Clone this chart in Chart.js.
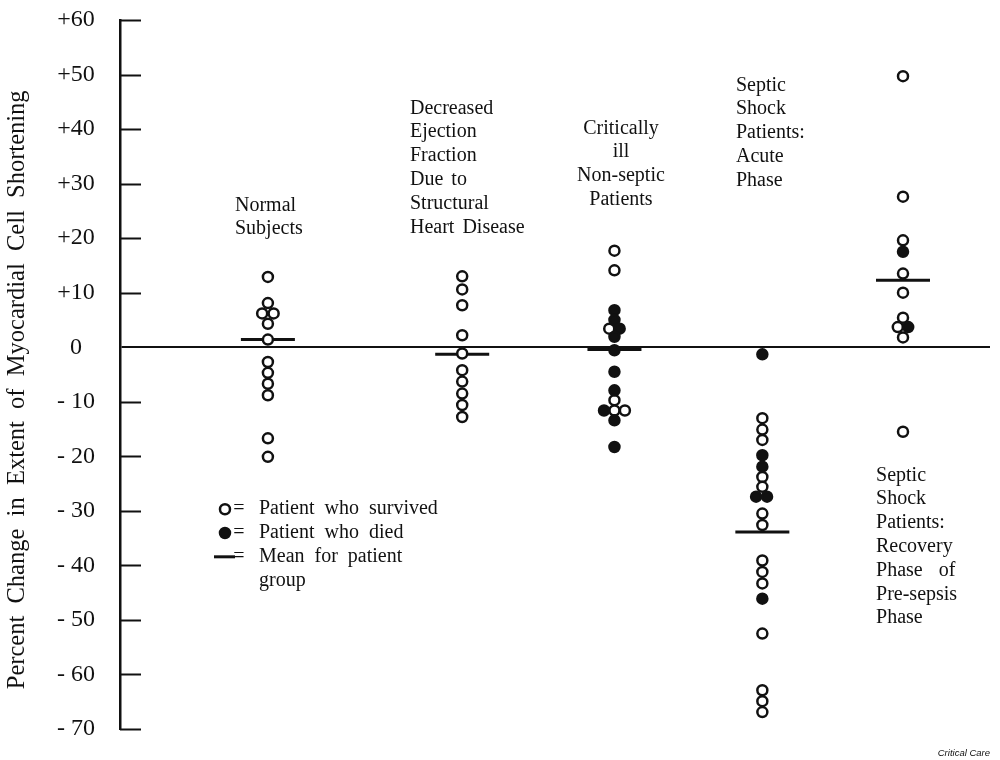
<!DOCTYPE html>
<html><head><meta charset="utf-8">
<script src="https://cdn.jsdelivr.net/npm/chart.js@4/dist/chart.umd.min.js"></script>
<style>html,body{margin:0;padding:0;background:#fff;}#wrap{width:1000px;height:760px;}</style>
</head><body><div id="wrap"><canvas id="c" width="1000" height="760"></canvas></div>
<script>
// ---- categories and their positions on the (hidden) horizontal axis ----
const categories = ['Normal Subjects', 'Decreased Ejection Fraction Due to Structural Heart Disease',
  'Critically ill Non-septic Patients', 'Septic Shock Patients: Acute Phase',
  'Septic Shock Patients: Recovery Phase of Pre-sepsis Phase'];
const groupPos = [1.02, 2.36, 3.41, 4.43, 5.40];

// ---- y axis ticks ----
const yTickValues = [60, 50, 40, 30, 20, 10, 0, -10, -20, -30, -40, -50, -60, -70];
const yTickLabels = ['+60', '+50', '+40', '+30', '+20', '+10', '0', '- 10', '- 20', '- 30', '- 40', '- 50', '- 60', '- 70'];

// ---- series: percent change per patient (survived = open, died = filled) ----
const normalSurvived     = [12.9, 8.1, 6.2, 6.2, 4.3, 1.4, -2.7, -4.7, -6.7, -8.8, -16.7, -20.1];
const normalSurvivedLane = [0, 0, -0.55, 0.55, 0, 0, 0, 0, 0, 0, 0, 0];
const normalDied         = [];

const ejectionSurvived   = [13.0, 10.6, 7.7, 2.2, -1.15, -4.2, -6.3, -8.5, -10.6, -12.8];
const ejectionDied       = [];

const criticalSurvived     = [17.7, 14.1, 3.4, -9.7, -11.6, -11.6];
const criticalSurvivedLane = [0, 0, -0.5, 0, 0, 1];
const criticalDied         = [6.8, 5.0, 3.4, 1.9, -0.55, -4.5, -7.9, -11.6, -13.4, -18.3];
const criticalDiedLane     = [0, 0, 0.5, 0, 0, 0, 0, -1, 0, 0];

const acuteSurvived = [-13.0, -15.1, -17.0, -23.8, -25.6, -30.5, -32.6, -39.1, -41.2, -43.3, -52.5, -62.9, -64.9, -66.9];
const acuteDied     = [-1.3, -19.8, -21.9, -27.4, -27.4, -46.1];
const acuteDiedLane = [0, 0, 0, -0.6, 0.45, 0];

const recoverySurvived     = [49.7, 27.6, 19.6, 13.5, 10.0, 5.4, 3.7, 1.8, -15.5];
const recoverySurvivedLane = [0, 0, 0, 0, 0, 0, -0.5, 0, 0];
const recoveryDied         = [17.5, 3.7];
const recoveryDiedLane     = [0, 0.5];

// ---- group means ----
const groupMeans = [1.4, -1.3, -0.4, -33.9, 12.3];

// ---- styling constants ----
const LANE = 0.072;      // x-units per side-by-side lane step
const INK = '#111';
const SERIF = '"Liberation Serif", "Times New Roman", serif';

function pts(g, vals, lanes) {
  return vals.map((v, i) => ({ x: groupPos[g] + (lanes ? lanes[i] : 0) * LANE, y: v }));
}
const survivedData = [].concat(
  pts(0, normalSurvived, normalSurvivedLane),
  pts(1, ejectionSurvived),
  pts(2, criticalSurvived, criticalSurvivedLane),
  pts(3, acuteSurvived),
  pts(4, recoverySurvived, recoverySurvivedLane));
const diedData = [].concat(
  pts(0, normalDied),
  pts(1, ejectionDied),
  pts(2, criticalDied, criticalDiedLane),
  pts(3, acuteDied, acuteDiedLane),
  pts(4, recoveryDied, recoveryDiedLane));
const meanData = groupMeans.map((m, g) => ({ x: groupPos[g], y: m }));

// ---- text annotations, anchored in data coordinates ----
const groupLabels = [
  { lines: ['Normal', 'Subjects'], x: 0.793, y: 26.0, align: 'left' },
  { lines: ['Decreased', 'Ejection', 'Fraction', 'Due to', 'Structural', 'Heart Disease'], x: 2.0, y: 43.8, align: 'left' },
  { lines: ['Critically', 'ill', 'Non-septic', 'Patients'], x: 3.455, y: 40.15, align: 'center' },
  { lines: ['Septic', 'Shock', 'Patients:', 'Acute', 'Phase'], x: 4.248, y: 48.0, align: 'left' },
  { lines: ['Septic', 'Shock', 'Patients:', 'Recovery', 'Phase  of', 'Pre-sepsis', 'Phase'], x: 5.214, y: -23.5, align: 'left' }
];
const legendItems = [
  { symbol: 'open', text: 'Patient who survived' },
  { symbol: 'filled', text: 'Patient who died' },
  { symbol: 'dash', text: 'Mean for patient' },
  { symbol: null, text: 'group' }
];
const legendAnchor = { x: 0.724, y: -29.7 };
const LINE_H = 23.8;

const overlay = {
  id: 'overlay',
  afterDraw(chart) {
    const { ctx, chartArea, scales: { x, y } } = chart;
    ctx.save();
    // inward tick marks
    ctx.strokeStyle = INK; ctx.lineWidth = 2;
    y.ticks.forEach(t => {
      if (t.value === 0) return;
      const py = Math.round(y.getPixelForValue(t.value)) + 0.5;
      ctx.beginPath(); ctx.moveTo(chartArea.left, py); ctx.lineTo(chartArea.left + 21, py); ctx.stroke();
    });
    // group labels
    ctx.fillStyle = INK;
    ctx.font = '20px ' + SERIF;
    ctx.textBaseline = 'middle';
    try { ctx.wordSpacing = '3px'; } catch (e) {}
    groupLabels.forEach(l => {
      const px = x.getPixelForValue(l.x), py = y.getPixelForValue(l.y);
      ctx.textAlign = l.align;
      l.lines.forEach((s, i) => ctx.fillText(s, px, py + i * LINE_H));
    });
    // legend
    try { ctx.wordSpacing = '5px'; } catch (e) {}
    const lx = x.getPixelForValue(legendAnchor.x), ly = y.getPixelForValue(legendAnchor.y);
    legendItems.forEach((it, i) => {
      const py = ly + i * LINE_H;
      ctx.lineWidth = 2.5; ctx.strokeStyle = INK; ctx.fillStyle = INK;
      if (it.symbol === 'open' || it.symbol === 'filled') {
        ctx.beginPath(); ctx.arc(lx, py, 5, 0, Math.PI * 2);
        ctx.fillStyle = it.symbol === 'open' ? '#fff' : INK; ctx.fill(); ctx.stroke();
      } else if (it.symbol === 'dash') {
        ctx.lineWidth = 3; ctx.beginPath(); ctx.moveTo(lx - 11, py); ctx.lineTo(lx + 10, py); ctx.stroke();
      }
      ctx.fillStyle = INK; ctx.textAlign = 'center';
      if (it.symbol) ctx.fillText('=', lx + 14, py);
      ctx.textAlign = 'left';
      ctx.fillText(it.text, lx + 34, py);
    });
    // footer
    try { ctx.wordSpacing = '0px'; } catch (e) {}
    ctx.font = 'italic 9.5px "Liberation Sans", Arial, sans-serif';
    ctx.textAlign = 'right'; ctx.textBaseline = 'alphabetic';
    ctx.fillText('Critical Care', 990, 756);
    ctx.restore();
  }
};

new Chart(document.getElementById('c'), {
  type: 'scatter',
  data: {
    datasets: [
      { label: 'Patient who died', data: diedData, order: 1,
        pointRadius: 5, pointBorderWidth: 2.5, pointBackgroundColor: INK, pointBorderColor: INK, pointHoverRadius: 5 },
      { label: 'Patient who survived', data: survivedData, order: 2,
        pointRadius: 5, pointBorderWidth: 2.5, pointBackgroundColor: '#fff', pointBorderColor: INK, pointHoverRadius: 5 },
      { label: 'Mean for patient group', data: meanData, order: 3,
        pointStyle: 'line', pointRadius: 27, pointBorderWidth: 3, pointBorderColor: INK, pointHoverRadius: 27 }
    ]
  },
  options: {
    responsive: false, animation: false,
    layout: { autoPadding: false, padding: { top: 20, bottom: 31, left: 0, right: 10 } },
    plugins: { legend: { display: false }, tooltip: { enabled: false } },
    scales: {
      x: { type: 'linear', min: 0, max: 6, display: false },
      y: {
        type: 'linear', min: -70, max: 60,
        afterFit: s => { s.width = 120; },
        afterBuildTicks: s => { s.ticks = yTickValues.map(v => ({ value: v })); },
        ticks: {
          padding: 0, crossAlign: 'center', color: INK,
          font: { family: SERIF, size: 24 },
          callback: v => yTickLabels[yTickValues.indexOf(v)]
        },
        grid: {
          drawTicks: true, tickLength: 25, tickColor: 'rgba(0,0,0,0)',
          drawOnChartArea: true, lineWidth: 2,
          color: c => (c.tick && c.tick.value === 0 ? INK : 'rgba(0,0,0,0)')
        },
        border: { display: true, color: INK, width: 2.5 },
        title: {
          display: true, text: 'Percent  Change  in  Extent  of  Myocardial  Cell  Shortening     ',
          color: INK, font: { family: SERIF, size: 24.5 }, padding: { top: 3, bottom: 0 }
        }
      }
    }
  },
  plugins: [overlay]
});
</script>
</body></html>
